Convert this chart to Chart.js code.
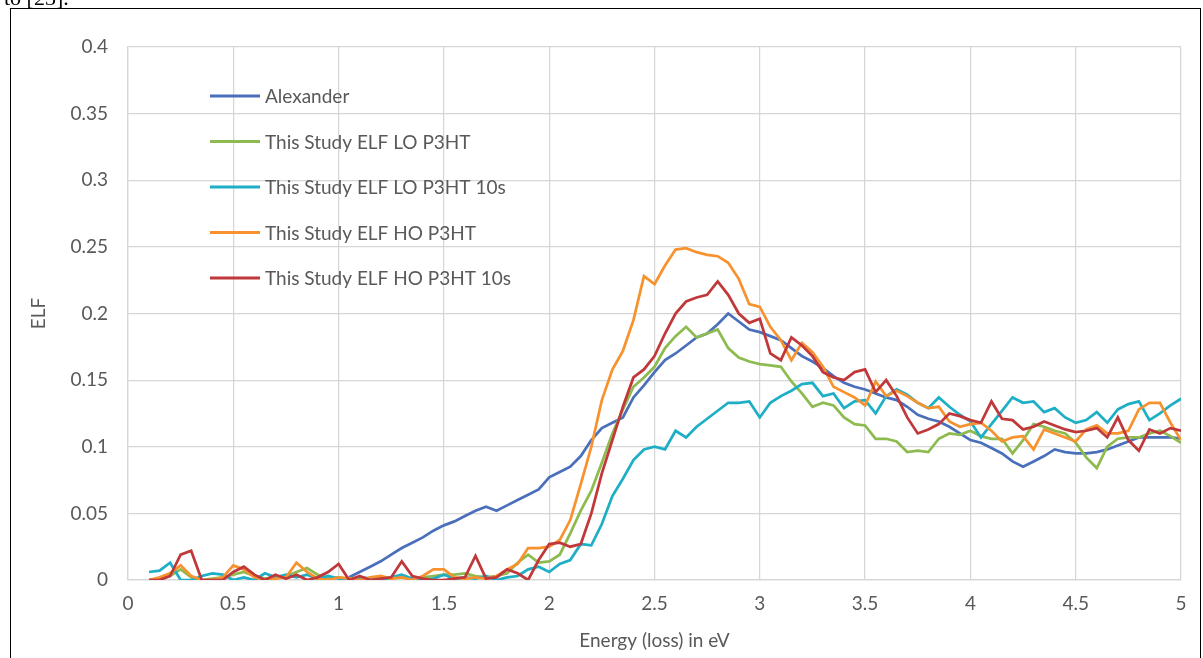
<!DOCTYPE html>
<html>
<head>
<meta charset="utf-8">
<script src="https://cdn.jsdelivr.net/npm/chart.js@4.4.1/dist/chart.umd.min.js"></script>
<style>
  html, body { margin: 0; padding: 0; background: #fff; overflow: hidden; }
  #wrap { position: relative; width: 1203px; height: 658px; }
  #frame { position: absolute; left: 10px; top: 8px; width: 1191px; height: 700px;
           border: 1.5px solid #000; box-sizing: border-box; pointer-events: none; }
  #cut { position: absolute; left: 4px; top: -13px; font: 22px "Liberation Serif", serif;
         line-height: 22px; color: #000; white-space: nowrap; }
</style>
</head>
<body>
<div id="wrap">
  <div id="cut">to [23].</div>
  <canvas id="graficoELF"></canvas>
  <div id="frame"></div>
</div>
<script>
// Energia (eV), passo de 0.05
const ENERGY_EV = [
  0.10, 0.15, 0.20, 0.25, 0.30, 0.35, 0.40, 0.45, 0.50, 0.55,
  0.60, 0.65, 0.70, 0.75, 0.80, 0.85, 0.90, 0.95, 1.00, 1.05,
  1.10, 1.15, 1.20, 1.25, 1.30, 1.35, 1.40, 1.45, 1.50, 1.55,
  1.60, 1.65, 1.70, 1.75, 1.80, 1.85, 1.90, 1.95, 2.00, 2.05,
  2.10, 2.15, 2.20, 2.25, 2.30, 2.35, 2.40, 2.45, 2.50, 2.55,
  2.60, 2.65, 2.70, 2.75, 2.80, 2.85, 2.90, 2.95, 3.00, 3.05,
  3.10, 3.15, 3.20, 3.25, 3.30, 3.35, 3.40, 3.45, 3.50, 3.55,
  3.60, 3.65, 3.70, 3.75, 3.80, 3.85, 3.90, 3.95, 4.00, 4.05,
  4.10, 4.15, 4.20, 4.25, 4.30, 4.35, 4.40, 4.45, 4.50, 4.55,
  4.60, 4.65, 4.70, 4.75, 4.80, 4.85, 4.90, 4.95, 5.00
];

const SERIES_LABELS = [
  "Alexander",
  "This Study ELF LO P3HT",
  "This Study ELF LO P3HT 10s",
  "This Study ELF HO P3HT",
  "This Study ELF HO P3HT 10s"
];

const ALEXANDER = [
  null, null, null, null, null, null, null, null, null, null,
  null, null, null, null, null, null, null, null, null, 0.002,
  0.006, 0.010, 0.014, 0.019, 0.024, 0.028, 0.032, 0.037, 0.041, 0.044,
  0.048, 0.052, 0.055, 0.052, 0.056, 0.060, 0.064, 0.068, 0.077, 0.081,
  0.085, 0.093, 0.105, 0.114, 0.118, 0.122, 0.137, 0.146, 0.156, 0.165,
  0.170, 0.176, 0.182, 0.185, 0.192, 0.200, 0.194, 0.188, 0.186, 0.183,
  0.180, 0.174, 0.168, 0.164, 0.159, 0.153, 0.148, 0.145, 0.143, 0.140,
  0.137, 0.135, 0.130, 0.124, 0.121, 0.119, 0.115, 0.110, 0.105, 0.103,
  0.099, 0.095, 0.089, 0.085, 0.089, 0.093, 0.098, 0.096, 0.095, 0.095,
  0.096, 0.098, 0.101, 0.104, 0.107, 0.107, 0.107, 0.107, 0.106
];

const LO_P3HT = [
  0, 0.001, 0.003, 0.008, 0.002, 0, 0.001, 0.002, 0.004, 0.006,
  0.003, 0.001, 0.002, 0.003, 0.006, 0.009, 0.004, 0.001, 0.002, 0.001,
  0.002, 0.001, 0.002, 0.001, 0.003, 0.001, 0.002, 0.003, 0.004, 0.004,
  0.005, 0.003, 0.002, 0.003, 0.005, 0.013, 0.019, 0.013, 0.014, 0.019,
  0.035, 0.052, 0.067, 0.088, 0.110, 0.128, 0.145, 0.152, 0.160, 0.174,
  0.183, 0.190, 0.182, 0.185, 0.188, 0.174, 0.167, 0.164, 0.162, 0.161,
  0.160, 0.149, 0.140, 0.130, 0.133, 0.131, 0.122, 0.117, 0.116, 0.106,
  0.106, 0.104, 0.096, 0.097, 0.096, 0.106, 0.110, 0.109, 0.112, 0.108,
  0.106, 0.106, 0.095, 0.105, 0.117, 0.115, 0.112, 0.110, 0.103, 0.092,
  0.084, 0.100, 0.106, 0.107, 0.107, 0.110, 0.112, 0.108, 0.103
];

const LO_P3HT_10S = [
  0.006, 0.007, 0.013, 0, 0, 0.003, 0.005, 0.004, 0, 0.002,
  0, 0.005, 0.002, 0.004, 0.002, 0.004, 0.001, 0.003, 0.001, 0,
  0.002, 0.001, 0, 0.002, 0.004, 0.001, 0, 0.001, 0.004, 0.001,
  0.002, 0.001, 0.003, 0, 0.002, 0.003, 0.008, 0.010, 0.006, 0.012,
  0.015, 0.027, 0.026, 0.042, 0.063, 0.076, 0.090, 0.098, 0.100, 0.098,
  0.112, 0.107, 0.115, 0.121, 0.127, 0.133, 0.133, 0.134, 0.122, 0.133,
  0.138, 0.142, 0.147, 0.148, 0.138, 0.140, 0.129, 0.134, 0.135, 0.125,
  0.138, 0.143, 0.139, 0.133, 0.129, 0.137, 0.130, 0.124, 0.119, 0.107,
  0.117, 0.127, 0.137, 0.133, 0.134, 0.126, 0.129, 0.122, 0.118, 0.120,
  0.126, 0.118, 0.128, 0.132, 0.134, 0.120, 0.125, 0.131, 0.136
];

const HO_P3HT = [
  0, 0.002, 0.005, 0.011, 0.003, 0, 0, 0.002, 0.011, 0.008,
  0.002, 0, 0.001, 0.002, 0.013, 0.006, 0.001, 0, 0.002, 0.001,
  0, 0.002, 0.003, 0.001, 0.002, 0, 0.003, 0.008, 0.008, 0.002,
  0.001, 0.002, 0.001, 0.003, 0.008, 0.012, 0.024, 0.024, 0.025, 0.030,
  0.045, 0.072, 0.100, 0.135, 0.158, 0.172, 0.195, 0.228, 0.222, 0.236,
  0.248, 0.249, 0.246, 0.244, 0.243, 0.238, 0.226, 0.207, 0.205, 0.190,
  0.180, 0.165, 0.178, 0.171, 0.160, 0.145, 0.141, 0.137, 0.131, 0.149,
  0.138, 0.142, 0.138, 0.133, 0.129, 0.130, 0.119, 0.115, 0.117, 0.118,
  0.112, 0.104, 0.107, 0.108, 0.098, 0.113, 0.110, 0.107, 0.104, 0.113,
  0.116, 0.110, 0.110, 0.112, 0.128, 0.133, 0.133, 0.118, 0.105
];

const HO_P3HT_10S = [
  0, 0, 0.003, 0.019, 0.022, 0, 0, 0, 0.006, 0.010,
  0.004, 0, 0.004, 0.001, 0.004, 0, 0.002, 0.006, 0.012, 0,
  0.003, 0, 0.001, 0.002, 0.014, 0.003, 0.001, 0, 0, 0.001,
  0.002, 0.018, 0.001, 0.002, 0.008, 0.005, 0, 0.015, 0.027, 0.028,
  0.025, 0.027, 0.050, 0.080, 0.105, 0.130, 0.152, 0.158, 0.168, 0.185,
  0.200, 0.209, 0.212, 0.214, 0.224, 0.214, 0.200, 0.193, 0.196, 0.170,
  0.165, 0.182, 0.176, 0.168, 0.156, 0.152, 0.150, 0.156, 0.158, 0.141,
  0.150, 0.138, 0.122, 0.110, 0.113, 0.117, 0.125, 0.123, 0.120, 0.118,
  0.134, 0.121, 0.120, 0.113, 0.115, 0.119, 0.116, 0.113, 0.111, 0.112,
  0.114, 0.107, 0.122, 0.105, 0.097, 0.113, 0.110, 0.114, 0.112
];

const SERIES_VALUES = [ALEXANDER, LO_P3HT, LO_P3HT_10S, HO_P3HT, HO_P3HT_10S];
const SERIES_COLORS = ["#4a6fbb", "#8dbb4f", "#1eafc6", "#f7922f", "#c0383a"];

const TEXT_COLOR = "#595959";
const GRID_COLOR = "#d6d6d6";
const FONT_FAMILY = "Lato, 'Open Sans', sans-serif";

function formatarTick(v) {
  return String(parseFloat(v.toFixed(2)));
}

// Legenda dentro da área do gráfico, como no Excel
const legendaInterna = {
  id: "legendaInterna",
  afterDatasetsDraw(chart) {
    const { ctx, chartArea } = chart;
    const x0 = chartArea.left + 82;
    ctx.save();
    chart.data.datasets.forEach((ds, i) => {
      const y = chartArea.top + 49 + i * 45.5;
      ctx.strokeStyle = ds.borderColor;
      ctx.lineWidth = 3;
      ctx.lineCap = "butt";
      ctx.beginPath();
      ctx.moveTo(x0, y);
      ctx.lineTo(x0 + 50, y);
      ctx.stroke();
      ctx.fillStyle = TEXT_COLOR;
      ctx.font = "19px " + FONT_FAMILY;
      ctx.textBaseline = "middle";
      ctx.textAlign = "left";
      ctx.fillText(ds.label, x0 + 55, y + 1);
    });
    ctx.restore();
  }
};

document.addEventListener("DOMContentLoaded", () => {
  const canvas = document.getElementById("graficoELF");
  canvas.width = 1203;
  canvas.height = 658;
  const ctx = canvas.getContext("2d");

  const datasets = SERIES_LABELS.map((label, i) => ({
    label: label,
    data: ENERGY_EV.map((x, j) => ({ x: x, y: SERIES_VALUES[i][j] })),
    borderColor: SERIES_COLORS[i],
    backgroundColor: SERIES_COLORS[i],
    borderWidth: 2.75,
    pointRadius: 0,
    tension: 0,
    fill: false,
    spanGaps: false,
    order: SERIES_LABELS.length - i
  }));

  new Chart(ctx, {
    type: "line",
    data: { datasets: datasets },
    options: {
      responsive: false,
      animation: false,
      devicePixelRatio: 1,
      layout: { padding: { left: 0, top: 47, right: 22, bottom: 0 } },
      plugins: {
        legend: { display: false },
        tooltip: { enabled: false }
      },
      scales: {
        x: {
          type: "linear",
          min: 0,
          max: 5,
          afterFit: (scale) => { scale.height = 78; },
          ticks: {
            stepSize: 0.5,
            color: TEXT_COLOR,
            font: { family: FONT_FAMILY, size: 19 },
            padding: 12,
            maxRotation: 0,
            callback: formatarTick
          },
          grid: { color: GRID_COLOR, lineWidth: 1.25, drawTicks: false },
          border: { color: GRID_COLOR, width: 1.25 },
          title: {
            display: true,
            text: "Energy (loss) in eV",
            color: TEXT_COLOR,
            font: { family: FONT_FAMILY, size: 19 },
            padding: { top: 0, bottom: 6 }
          }
        },
        y: {
          min: 0,
          max: 0.4,
          afterFit: (scale) => { scale.width = 128; },
          ticks: {
            stepSize: 0.05,
            color: TEXT_COLOR,
            font: { family: FONT_FAMILY, size: 19 },
            padding: 20,
            callback: formatarTick
          },
          grid: { color: GRID_COLOR, lineWidth: 1.25, drawTicks: false },
          border: { color: GRID_COLOR, width: 1.25 },
          title: {
            display: true,
            text: "ELF",
            color: TEXT_COLOR,
            font: { family: FONT_FAMILY, size: 19 },
            padding: { top: 27, bottom: 0 }
          }
        }
      }
    },
    plugins: [legendaInterna]
  });
});
</script>
</body>
</html>
